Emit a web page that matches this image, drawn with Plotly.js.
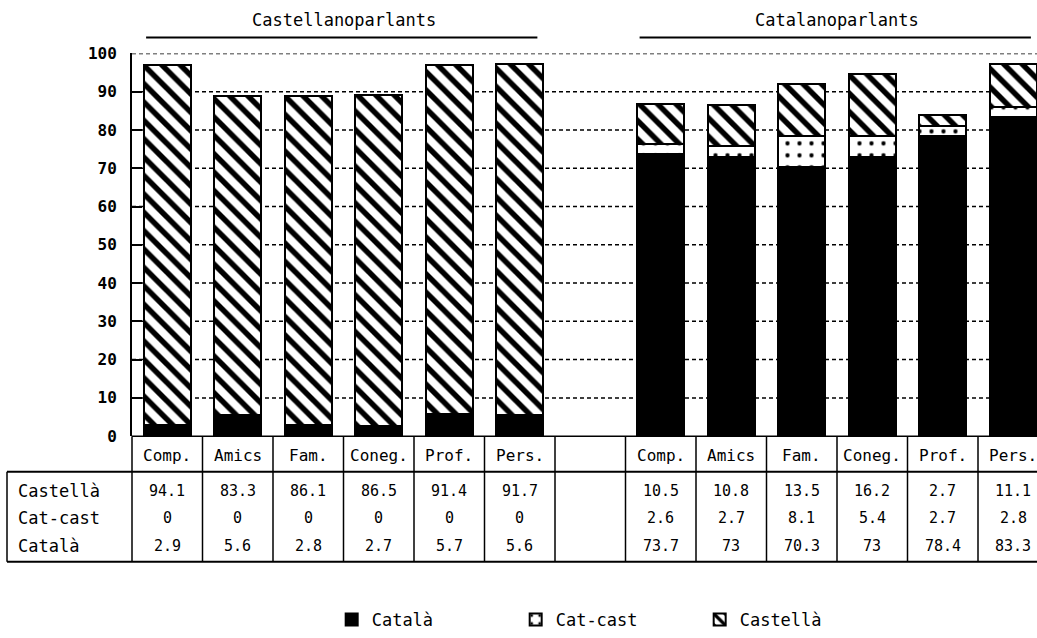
<!DOCTYPE html>
<html>
<head>
<meta charset="utf-8">
<script src="https://cdn.plot.ly/plotly-3.0.1.min.js"></script>
<style>body{margin:0;background:#fff}#chart{width:1037px;height:638px}</style>
</head>
<body>
<div id="chart"></div>
<script>
// ---- data ----
const categories = ['Comp.', 'Amics', 'Fam.', 'Coneg.', 'Prof.', 'Pers.'];
const groupNames = ['Castellanoparlants', 'Catalanoparlants'];
const seriesNames = ['Català', 'Cat-cast', 'Castellà'];
const castellanoCatala   = [2.9, 5.6, 2.8, 2.7, 5.7, 5.6];
const castellanoCatCast  = [0, 0, 0, 0, 0, 0];
const castellanoCastella = [94.1, 83.3, 86.1, 86.5, 91.4, 91.7];
const catalanoCatala     = [73.7, 73, 70.3, 73, 78.4, 83.3];
const catalanoCatCast    = [2.6, 2.7, 8.1, 5.4, 2.7, 2.8];
const catalanoCastella   = [10.5, 10.8, 13.5, 16.2, 2.7, 11.1];
const yTicks = [0, 10, 20, 30, 40, 50, 60, 70, 80, 90, 100];

// ---- layout constants (pixels) ----
const W = 1037, H = 638;
const COL0 = 132, COLW = 70.5;
const Y_ZERO = 441, Y_TOP = 54;
const ROW_TOP = 477, ROW_BOTTOM = 568, TABLE_LEFT = 7;
const HEADER_Y = 461, ROW_Y = [496, 524, 552];
const px = p => p / W;
const py = p => (H - p) / H;
const FONT = '"DejaVu Sans Mono", "Liberation Mono", monospace';

const groups = [
  {name: groupNames[0], axis: 'x', series: [castellanoCatala, castellanoCatCast, castellanoCastella]},
  {name: groupNames[1], axis: 'x2', series: [catalanoCatala, catalanoCatCast, catalanoCastella]}
];

const markerStyles = [
  {color: 'black', line: {color: 'black', width: 2}},
  {color: 'white', pattern: {shape: '.', size: 12, solidity: 0.1, fgcolor: 'black', bgcolor: 'white'}, line: {color: 'black', width: 2}},
  {color: 'white', pattern: {shape: '\\', size: 13, solidity: 0.42, fgcolor: 'black', bgcolor: 'white'}, line: {color: 'black', width: 2}}
];

const traces = [];
groups.forEach((g, gi) => {
  g.series.forEach((vals, si) => {
    traces.push({
      type: 'bar',
      x: categories,
      y: vals,
      xaxis: g.axis,
      yaxis: 'y',
      name: seriesNames[si],
      legendgroup: seriesNames[si],
      showlegend: gi === 0,
      marker: markerStyles[si],
      hovertemplate: '%{x}: %{y}<extra>' + seriesNames[si] + '</extra>'
    });
  });
});

const annotations = [];
const shapes = [];
const lineStyle = {color: 'black', width: 1.5};
const ann = o => Object.assign({showarrow: false, xanchor: 'center', yanchor: 'middle'}, o);

groups.forEach(g => {
  annotations.push(ann({xref: g.axis, x: (categories.length - 1) / 2, yref: 'paper', y: py(20),
    text: g.name, font: {family: FONT, size: 17, color: 'black'}}));
  categories.forEach((c, i) => {
    annotations.push(ann({xref: g.axis, x: i, yref: 'paper', y: py(HEADER_Y), text: c,
      font: {family: FONT, size: 16, color: 'black'}}));
  });
  [2, 1, 0].forEach((si, ri) => {
    g.series[si].forEach((v, i) => {
      annotations.push(ann({xref: g.axis, x: i, yref: 'paper', y: py(ROW_Y[ri]), text: String(v),
        font: {family: FONT, size: 15, color: 'black'}}));
    });
  });
});
[2, 1, 0].forEach((si, ri) => {
  annotations.push(ann({xref: 'paper', x: px(TABLE_LEFT + 9), xanchor: 'left', yref: 'paper', y: py(ROW_Y[ri]),
    text: seriesNames[si], font: {family: FONT, size: 17, color: 'black'}}));
});

yTicks.filter(t => t > 0).forEach(t => {
  shapes.push({type: 'line', layer: 'below', xref: 'paper', x0: px(COL0), x1: 1, yref: 'y', y0: t, y1: t,
    line: {color: 'black', width: 1.5, dash: '4px,3px'}});
});
groups.forEach(g => {
  shapes.push({type: 'line', xref: g.axis, x0: -0.3, x1: 5.25, yref: 'paper', y0: py(38), y1: py(38),
    line: {color: 'black', width: 2}});
});
shapes.push({type: 'line', xref: 'paper', x0: px(COL0), x1: 1, yref: 'paper', y0: py(Y_ZERO), y1: py(Y_ZERO), line: lineStyle});
shapes.push({type: 'line', xref: 'paper', x0: px(TABLE_LEFT), x1: 1, yref: 'paper', y0: py(ROW_TOP), y1: py(ROW_TOP), line: {color: 'black', width: 2}});
shapes.push({type: 'line', xref: 'paper', x0: px(TABLE_LEFT), x1: 1, yref: 'paper', y0: py(ROW_BOTTOM), y1: py(ROW_BOTTOM), line: {color: 'black', width: 2}});
shapes.push({type: 'line', xref: 'paper', x0: px(TABLE_LEFT), x1: px(TABLE_LEFT), yref: 'paper', y0: py(ROW_TOP), y1: py(ROW_BOTTOM), line: lineStyle});
for (let k = 0; k <= 13; k++) {
  const xp = COL0 + k * COLW;
  if (xp > W) break;
  shapes.push({type: 'line', xref: 'paper', x0: px(xp), x1: px(xp), yref: 'paper', y0: py(Y_ZERO), y1: py(ROW_BOTTOM), line: lineStyle});
}

const x2Start = COL0 + 7 * COLW;
const layout = {
  width: W, height: H,
  margin: {l: 0, r: 0, t: 0, b: 0},
  paper_bgcolor: 'white', plot_bgcolor: 'rgba(0,0,0,0)',
  barmode: 'stack', bargap: 0.33,
  font: {family: FONT, color: 'black'},
  xaxis: {domain: [px(COL0), px(COL0 + 6 * COLW)], range: [-0.5, 5.5], showticklabels: false, ticks: '',
    showgrid: false, zeroline: false, showline: false, anchor: 'y', fixedrange: true},
  xaxis2: {domain: [px(x2Start), 1], range: [-0.5, -0.5 + (W - x2Start) / COLW], showticklabels: false, ticks: '',
    showgrid: false, zeroline: false, showline: false, anchor: 'y', fixedrange: true},
  yaxis: {domain: [py(Y_ZERO), py(Y_TOP)], range: [0, 100], tickvals: yTicks, ticktext: yTicks.map(String),
    ticks: 'inside', ticklen: 10, tickwidth: 2, tickcolor: 'black', showline: true, linewidth: 2, linecolor: 'black',
    showgrid: false, zeroline: false, ticklabelstandoff: 10, anchor: 'x', fixedrange: true,
    tickfont: {family: FONT, size: 16, color: 'black', weight: 'bold'}},
  showlegend: true,
  legend: {orientation: 'h', x: 0.586, xanchor: 'center', y: py(627), yanchor: 'middle',
    font: {family: FONT, size: 17, color: 'black'}, traceorder: 'normal', itemwidth: 30,
    entrywidth: 139, entrywidthmode: 'pixels'},
  annotations: annotations,
  shapes: shapes
};

Plotly.newPlot('chart', traces, layout, {displayModeBar: false});
</script>
</body>
</html>
